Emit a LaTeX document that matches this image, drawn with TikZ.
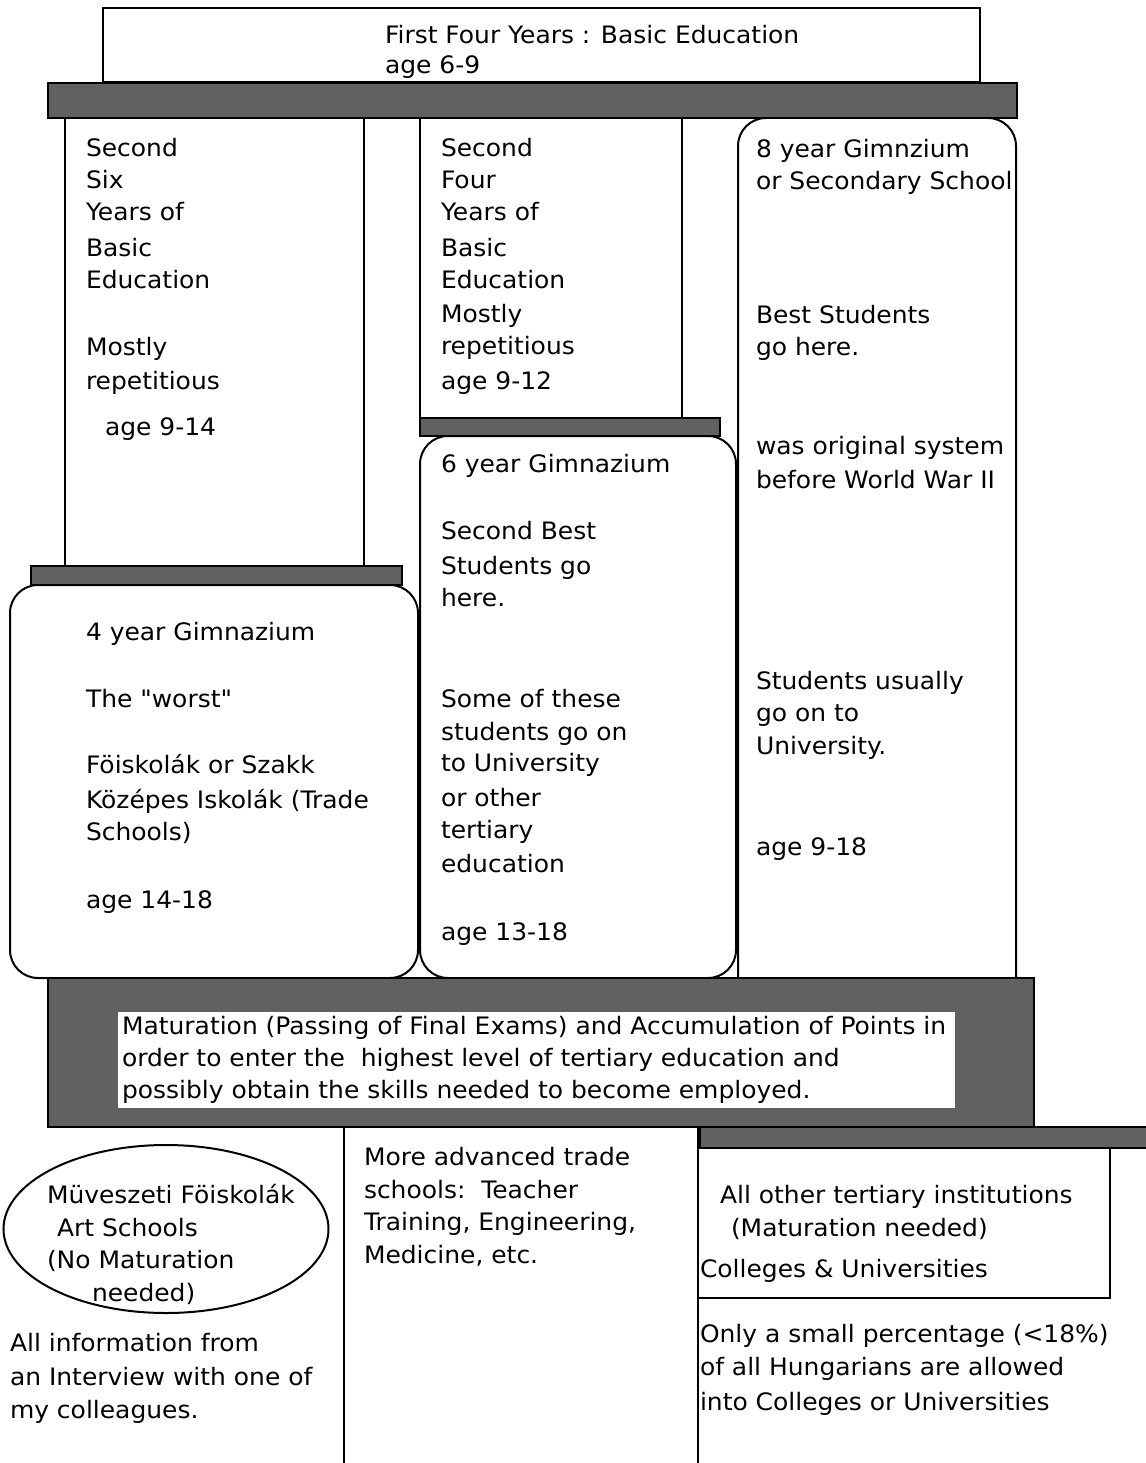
\documentclass[tikz,border=0pt]{standalone}
\usepackage{fontspec}
\setmainfont{DejaVu Sans}[FakeStretch=1.04, Ligatures=TeXOff]
\usetikzlibrary{shapes.geometric}
\begin{document}
\begin{tikzpicture}[x=1pt,y=-1pt,
  frame/.style={draw, line width=2pt, fill=white, inner sep=0pt, outer sep=0pt, anchor=north west},
  rframe/.style={frame, rounded corners=28pt},
  bar/.style={draw, line width=2pt, fill=black!62, inner sep=0pt, outer sep=0pt, anchor=north west},
  txt/.style={anchor=base west, inner sep=0pt, outer sep=0pt, font=\fontsize{24}{30}\selectfont},
  rule/.style={line width=2pt}]
\useasboundingbox[fill=white] (0,0) rectangle (1145,1463);

% boxes
\node[frame, minimum width=877, minimum height=74] (top) at (103,8) {};
\node[frame, minimum width=299, minimum height=450] (six) at (65,117) {};
\node[frame, minimum width=262, minimum height=302] (four) at (420,117) {};
\node[rframe, minimum width=408, minimum height=393] (g4) at (10,585) {};
\node[rframe, minimum width=316, minimum height=542] (g6) at (420,436) {};
\node[inner sep=0pt, outer sep=0pt, anchor=north west, minimum width=278, minimum height=860] (g8) at (738,118) {};
\draw[rule, rounded corners=28pt] (g8.south west) -- (g8.north west) -- (g8.north east) -- (g8.south east);

% bars
\node[bar, minimum width=969, minimum height=35] (bar1) at (48,83) {};
\node[bar, minimum width=371, minimum height=19] (bar2) at (31,566) {};
\node[bar, minimum width=300, minimum height=18] (bar3) at (420,418) {};
\node[bar, minimum width=986, minimum height=149] (bar4) at (48,978) {};
\node[fill=white, inner sep=0pt, outer sep=0pt, anchor=north west, minimum width=837, minimum height=96] (mat) at (118,1012) {};
\node[bar, minimum width=460, minimum height=21] (bar5) at (700,1127) {};

% bottom area
\coordinate (v1t) at (344,1127);
\coordinate (v1b) at (344,1470);
\coordinate (v2t) at (698,1127);
\coordinate (v2b) at (698,1470);
\draw[rule] (v1t) -- (v1b);
\draw[rule] (v2t) -- (v2b);
\node[frame, fill=none, minimum width=412, minimum height=150] (tert) at (698,1148) {};
\node[draw, ellipse, line width=2pt, inner sep=0pt, minimum width=325, minimum height=168] (ell) at (166,1229) {};

% texts
\node[txt] (t1) at (385,44) {First Four Years : Basic Education};
\node[txt] (t2) at (385,74) {age 6-9};

\foreach \y/\t in {157/Second, 189/Six, 221/Years of, 256/Basic, 288/Education, 355/Mostly, 389/repetitious}
  \node[txt] (a\y) at (86,\y) {\t};
\node[txt] (a435) at (105,435) {age 9-14};

\foreach \y/\t in {157/Second, 189/Four, 221/Years of, 256/Basic, 288/Education, 322/Mostly, 354/repetitious, 389/age 9-12}
  \node[txt] (b\y) at (441,\y) {\t};

\foreach \y/\t in {158/8 year Gimnzium, 190/or Secondary School, 323/Best Students, 355/go here., 454/was original system, 488/before World War II, 689/Students usually, 721/go on to, 754/University., 855/age 9-18}
  \node[txt] (c\y) at (756,\y) {\t};

\foreach \y/\t in {472/6 year Gimnazium, 539/Second Best, 574/Students go, 606/here., 707/Some of these, 740/students go on, 771/to University, 806/or other, 838/tertiary, 872/education, 940/age 13-18}
  \node[txt] (d\y) at (441,\y) {\t};

\foreach \y/\t in {640/4 year Gimnazium, 707/The "worst", 773/Föiskolák or Szakk, 808/Középes Iskolák (Trade, 840/Schools), 908/age 14-18}
  \node[txt] (e\y) at (86,\y) {\t};

\node[txt] (m1) at (122,1034) {Maturation (Passing of Final Exams) and Accumulation of Points in};
\node[txt] (m2) at (122,1066) {order to enter the\ \ highest level of tertiary education and};
\node[txt] (m3) at (122,1098) {possibly obtain the skills needed to become employed.};

\node[txt] (f1) at (47,1203) {Müveszeti Föiskolák};
\node[txt] (f2) at (57,1236) {Art Schools};
\node[txt] (f3) at (47,1268) {(No Maturation};
\node[txt] (f4) at (92,1301) {needed)};

\node[txt] (g1) at (10,1351) {All information from};
\node[txt] (g2) at (10,1385) {an Interview with one of};
\node[txt] (g3) at (10,1418) {my colleagues.};

\node[txt] (h1) at (364,1165) {More advanced trade};
\node[txt] (h2) at (364,1198) {schools:\ \ Teacher};
\node[txt] (h3) at (364,1230) {Training, Engineering,};
\node[txt] (h4) at (364,1263) {Medicine, etc.};

\node[txt] (k1) at (720,1203) {All other tertiary institutions};
\node[txt] (k2) at (731,1236) {(Maturation needed)};
\node[txt] (k3) at (700,1277) {Colleges \& Universities};
\node[txt] (k4) at (700,1342) {Only a small percentage (<18\%)};
\node[txt] (k5) at (700,1375) {of all Hungarians are allowed};
\node[txt] (k6) at (700,1410) {into Colleges or Universities};
\end{tikzpicture}
\end{document}
